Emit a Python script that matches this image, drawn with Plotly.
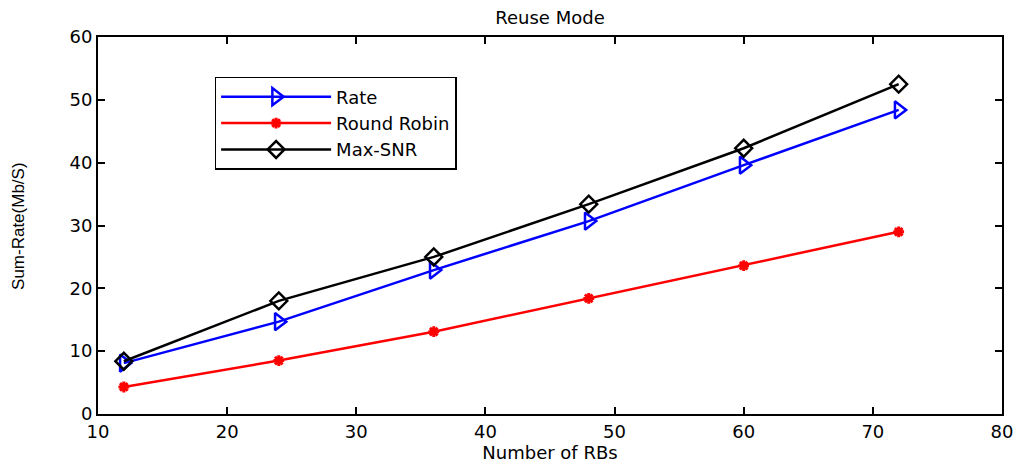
import plotly.graph_objects as go

rbs = [12, 24, 36, 48, 60, 72]
rate = [8.1, 14.7, 22.9, 30.7, 39.6, 48.4]
round_robin = [4.3, 8.5, 13.1, 18.4, 23.6, 29.0]
max_snr = [8.4, 18.0, 25.0, 33.4, 42.3, 52.5]

x_ticks = [10, 20, 30, 40, 50, 60, 70, 80]
y_ticks = [0, 10, 20, 30, 40, 50, 60]

FONT = "DejaVu Sans, Liberation Sans, Arial, sans-serif"

fig = go.Figure()
fig.add_trace(go.Scatter(
    x=rbs, y=rate, name="Rate", mode="lines+markers",
    line=dict(color="#0000ff", width=2.5),
    marker=dict(symbol="triangle-right-open", size=15, color="#0000ff", line=dict(width=2.5)),
))
fig.add_trace(go.Scatter(
    x=rbs, y=round_robin, name="Round Robin", mode="lines+markers",
    line=dict(color="#ff0000", width=2.5),
    marker=dict(symbol="asterisk-open", size=9, color="#ff0000", line=dict(width=3, color="#ff0000")),
))
fig.add_trace(go.Scatter(
    x=rbs, y=max_snr, name="Max-SNR", mode="lines+markers",
    line=dict(color="#000000", width=2.5),
    marker=dict(symbol="diamond-open", size=13, color="#000000", line=dict(width=2.5)),
))

axis_common = dict(
    showgrid=False, zeroline=False, showline=True, linecolor="black", linewidth=2,
    mirror="ticks", ticks="inside", ticklen=7, tickwidth=1.5, tickcolor="black",
    tickfont=dict(family=FONT, size=18, color="black"),
)

fig.update_layout(
    width=1030, height=466,
    margin=dict(l=98, r=28, t=37, b=50),
    paper_bgcolor="white", plot_bgcolor="white",
    title=dict(text="Reuse Mode", x=0.534, xanchor="center", y=0.963, yanchor="middle",
               font=dict(family=FONT, size=18, color="black")),
    xaxis=dict(range=[10, 80], tickvals=x_ticks,
               title=dict(text="Number of RBs", font=dict(family=FONT, size=18, color="black"), standoff=0),
               **axis_common),
    yaxis=dict(range=[0, 60], tickvals=y_ticks, title=dict(text=""), **axis_common),
    legend=dict(x=0.129, y=0.894, xanchor="left", yanchor="top",
                bgcolor="white", bordercolor="black", borderwidth=1.5,
                font=dict(family=FONT, size=18, color="black"),
                itemwidth=110, tracegroupgap=0),
    showlegend=True,
    annotations=[dict(text="Sum-Rate(Mb/S)", xref="paper", yref="paper", x=-0.088, y=0.5,
                      xanchor="center", yanchor="middle", textangle=-90, showarrow=False,
                      font=dict(family="Liberation Sans Narrow, Liberation Sans, Arial", size=17, color="black"))],
)

fig.write_html("out.html")
